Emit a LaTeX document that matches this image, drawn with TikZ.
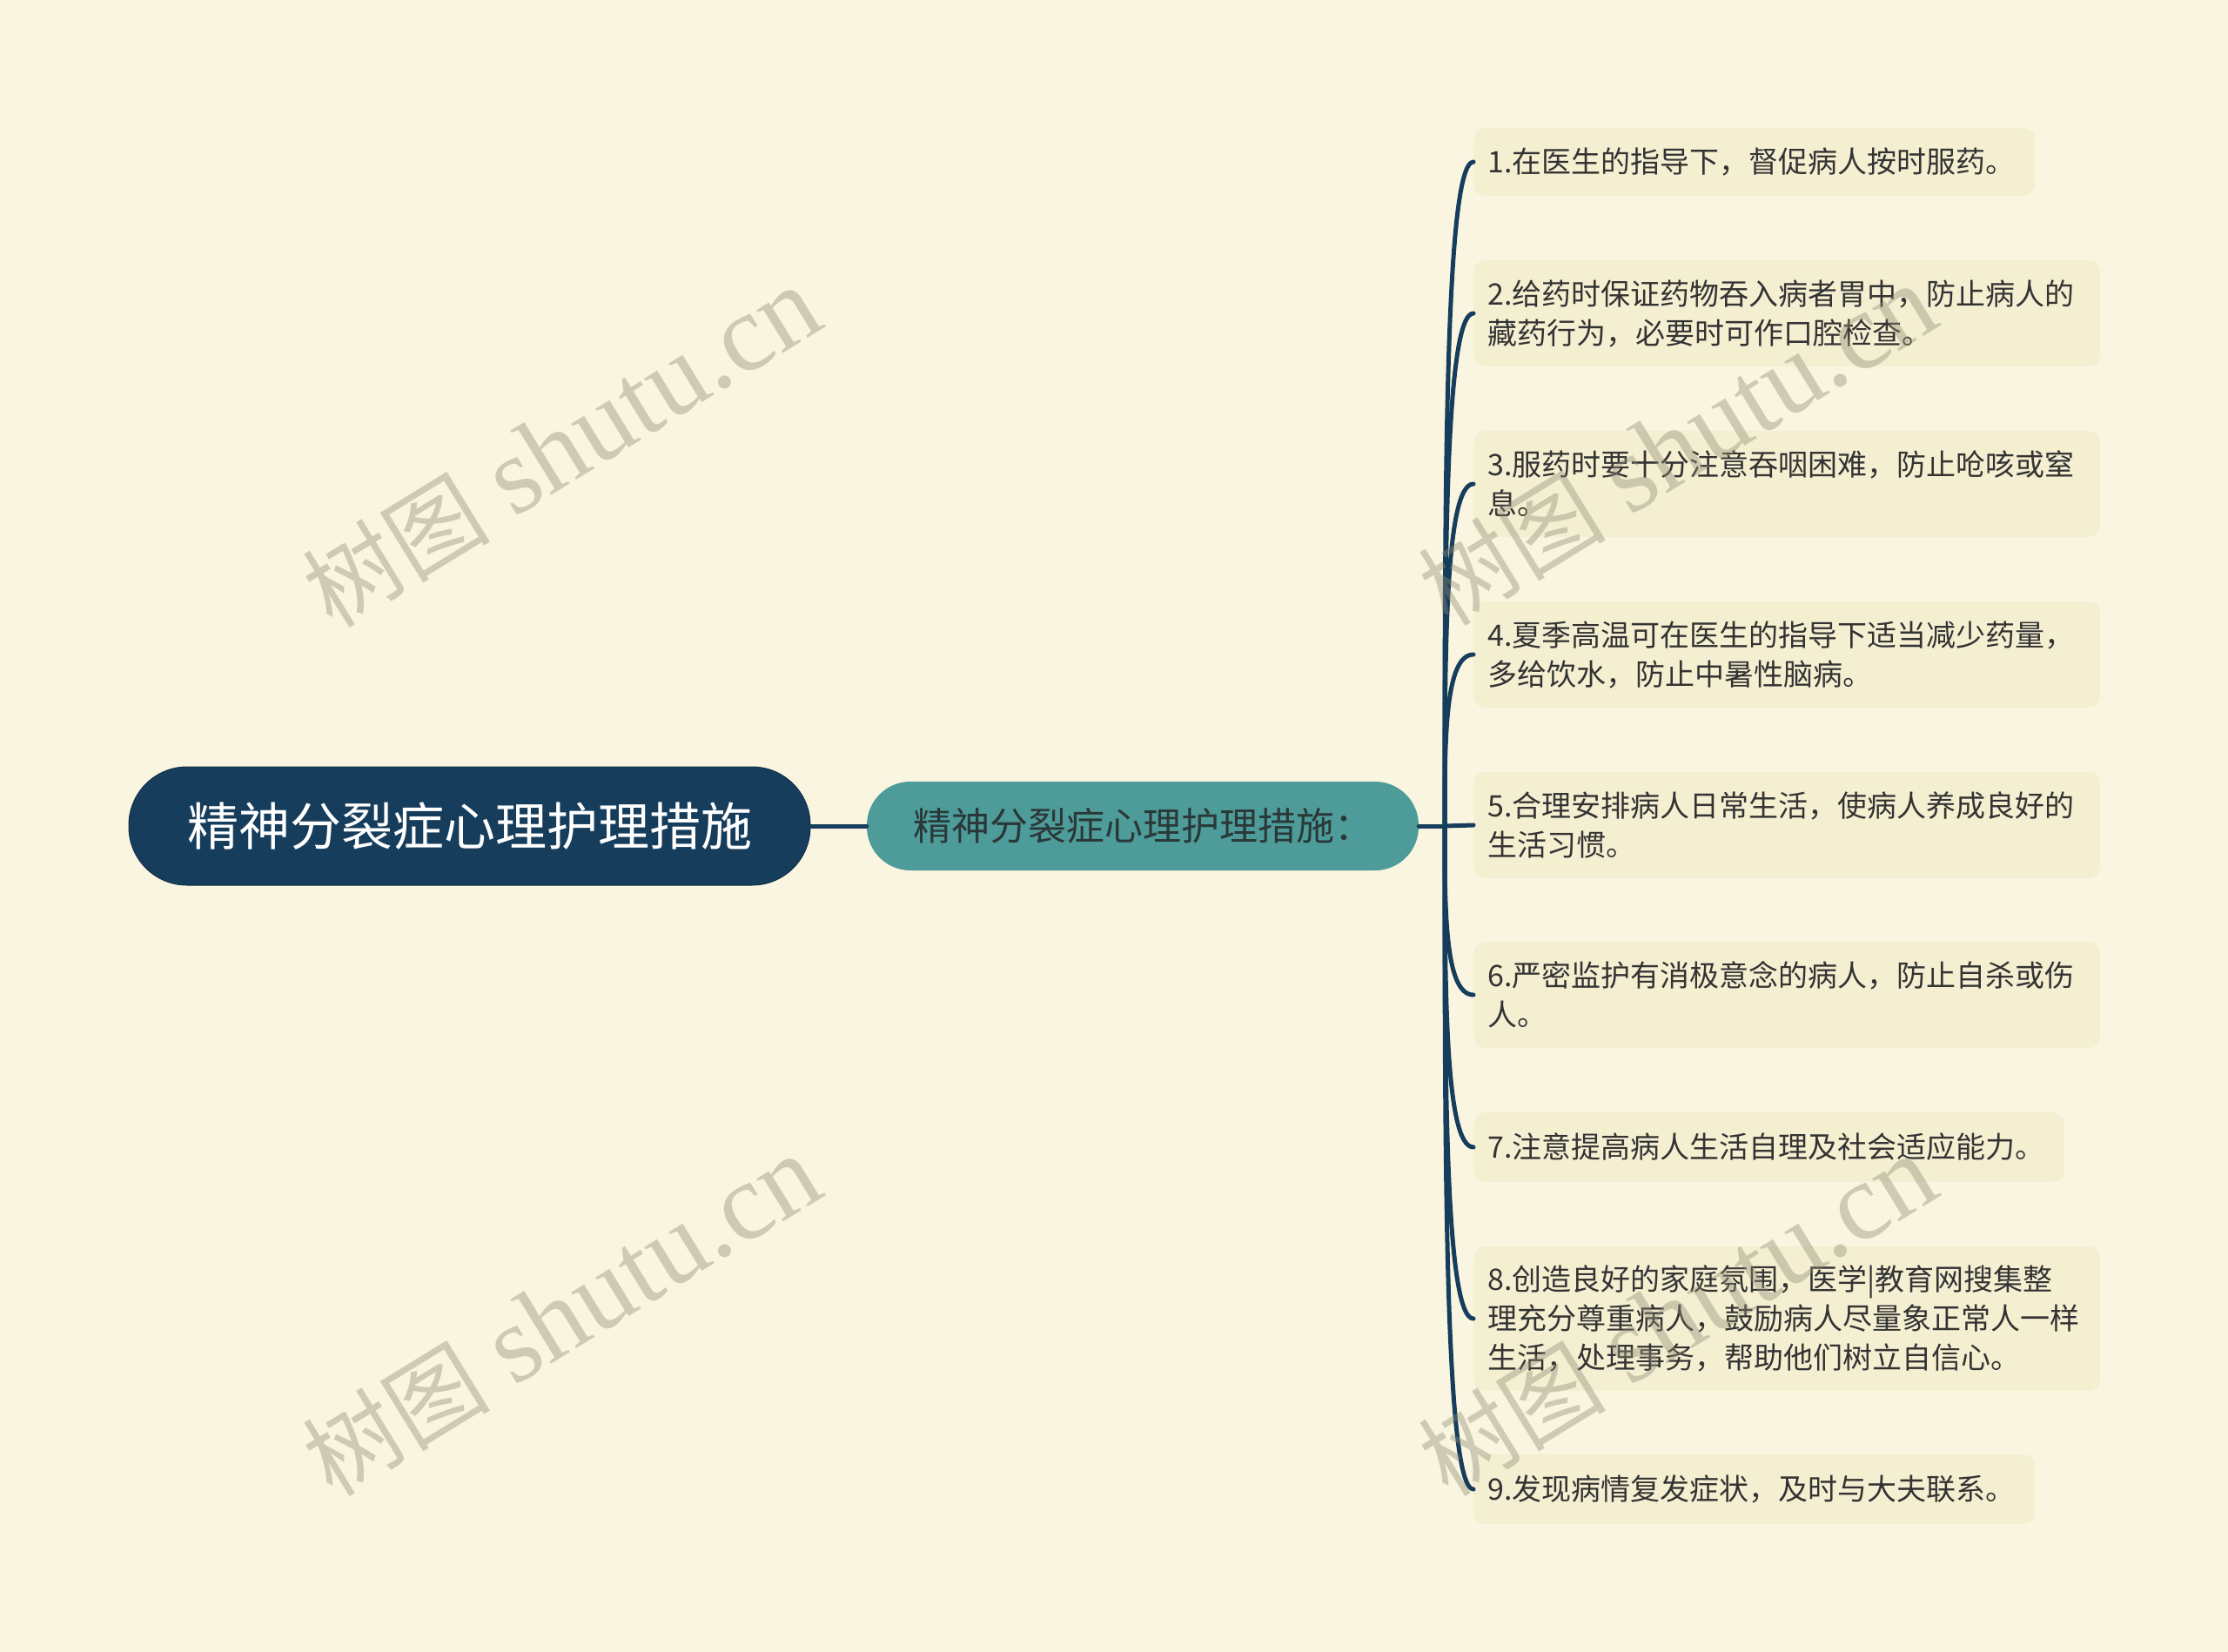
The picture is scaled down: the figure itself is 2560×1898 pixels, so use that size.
\documentclass[tikz,border=0pt]{standalone}
\usepackage{fontspec}
\setmainfont{Noto Sans CJK SC}
\newfontfamily\cjk{Noto Sans CJK SC}
\newfontfamily\wmserif{Liberation Serif}
\usetikzlibrary{calc}
\definecolor{bgc}{HTML}{FAF5E0}
\definecolor{navy}{HTML}{173D5C}
\definecolor{teal}{HTML}{4E9C9A}
\definecolor{leaff}{HTML}{F5EFD2}
\definecolor{leaft}{HTML}{333333}
\definecolor{subt}{HTML}{2B3838}
\definecolor{wmc}{RGB}{142,140,116}
\tikzset{
  rootbox/.style={rectangle, rounded corners=67pt, fill=navy, draw=navy!80!black, line width=1pt,
    minimum width=783pt, minimum height=136pt, inner sep=0pt, text=white,
    font=\fontsize{59}{66}\selectfont},
  subbox/.style={rectangle, rounded corners=50pt, fill=teal,
    minimum width=634pt, minimum height=102pt, inner sep=0pt, text=subt,
    font=\fontsize{44}{50}\selectfont},
  leafbox/.style={rectangle, rounded corners=13pt, fill=leaff, anchor=west,
    inner xsep=16pt, inner ysep=0pt, align=left, text=leaft,
    font=\fontsize{34}{45}\selectfont},
  conn/.style={draw=navy, line width=5pt, line cap=round},
  wmark/.style={text=wmc, text opacity=0.4, rotate=31.6, inner sep=0pt,
    font=\fontsize{126}{136}\selectfont}
}
\newcommand{\wmtext}{{\cjk\fontsize{108}{116}\selectfont 树图} {\wmserif shutu.cn}}
\begin{document}
\begin{tikzpicture}[x=1pt,y=-1pt]
\fill[bgc] (0,0) rectangle (2560,1898);
\useasboundingbox (0,0) rectangle (2560,1898);

\node[rootbox] (root) at (539.5,949) {精神分裂症心理护理措施};
\node[subbox] (sub) at (1313,949) {精神分裂症心理护理措施：};
\coordinate (hub) at (1660,949);

\node[leafbox, text width=613pt, minimum height=78pt] (L1) at (1693,186) {1.在医生的指导下，督促病人按时服药。};
\node[leafbox, text width=688pt, minimum height=122pt] (L2) at (1693,360) {2.给药时保证药物吞入病者胃中，防止病人的\\藏药行为，必要时可作口腔检查。};
\node[leafbox, text width=688pt, minimum height=122pt] (L3) at (1693,556) {3.服药时要十分注意吞咽困难，防止呛咳或窒\\息。};
\node[leafbox, text width=688pt, minimum height=122pt] (L4) at (1693,752) {4.夏季高温可在医生的指导下适当减少药量，\\多给饮水，防止中暑性脑病。};
\node[leafbox, text width=688pt, minimum height=122pt] (L5) at (1693,948) {5.合理安排病人日常生活，使病人养成良好的\\生活习惯。};
\node[leafbox, text width=688pt, minimum height=122pt] (L6) at (1693,1143) {6.严密监护有消极意念的病人，防止自杀或伤\\人。};
\node[leafbox, text width=647pt, minimum height=80pt] (L7) at (1693,1318) {7.注意提高病人生活自理及社会适应能力。};
\node[leafbox, text width=688pt, minimum height=166pt] (L8) at (1693,1515) {8.创造良好的家庭氛围，医学|教育网搜集整\\理充分尊重病人，鼓励病人尽量象正常人一样\\生活，处理事务，帮助他们树立自信心。};
\node[leafbox, text width=613pt, minimum height=80pt] (L9) at (1693,1711) {9.发现病情复发症状，及时与大夫联系。};

\draw[conn] (root.east) -- (sub.west);
\draw[conn] (sub.east) -- (hub);
\foreach \i in {1,2,3,4,6,7,8,9}{
  \draw[conn] (hub) .. controls ($(hub)!0.5!(hub |- L\i.west)$) and (hub |- L\i.west) .. (L\i.west);
}
\draw[conn] (hub) -- (L5.west);

\node[wmark] (w1) at (645,514) {\wmtext};
\node[wmark] (w2) at (645,1512) {\wmtext};
\node[wmark] (w3) at (1927,512) {\wmtext};
\node[wmark] (w4) at (1927,1512) {\wmtext};
\end{tikzpicture}
\end{document}
